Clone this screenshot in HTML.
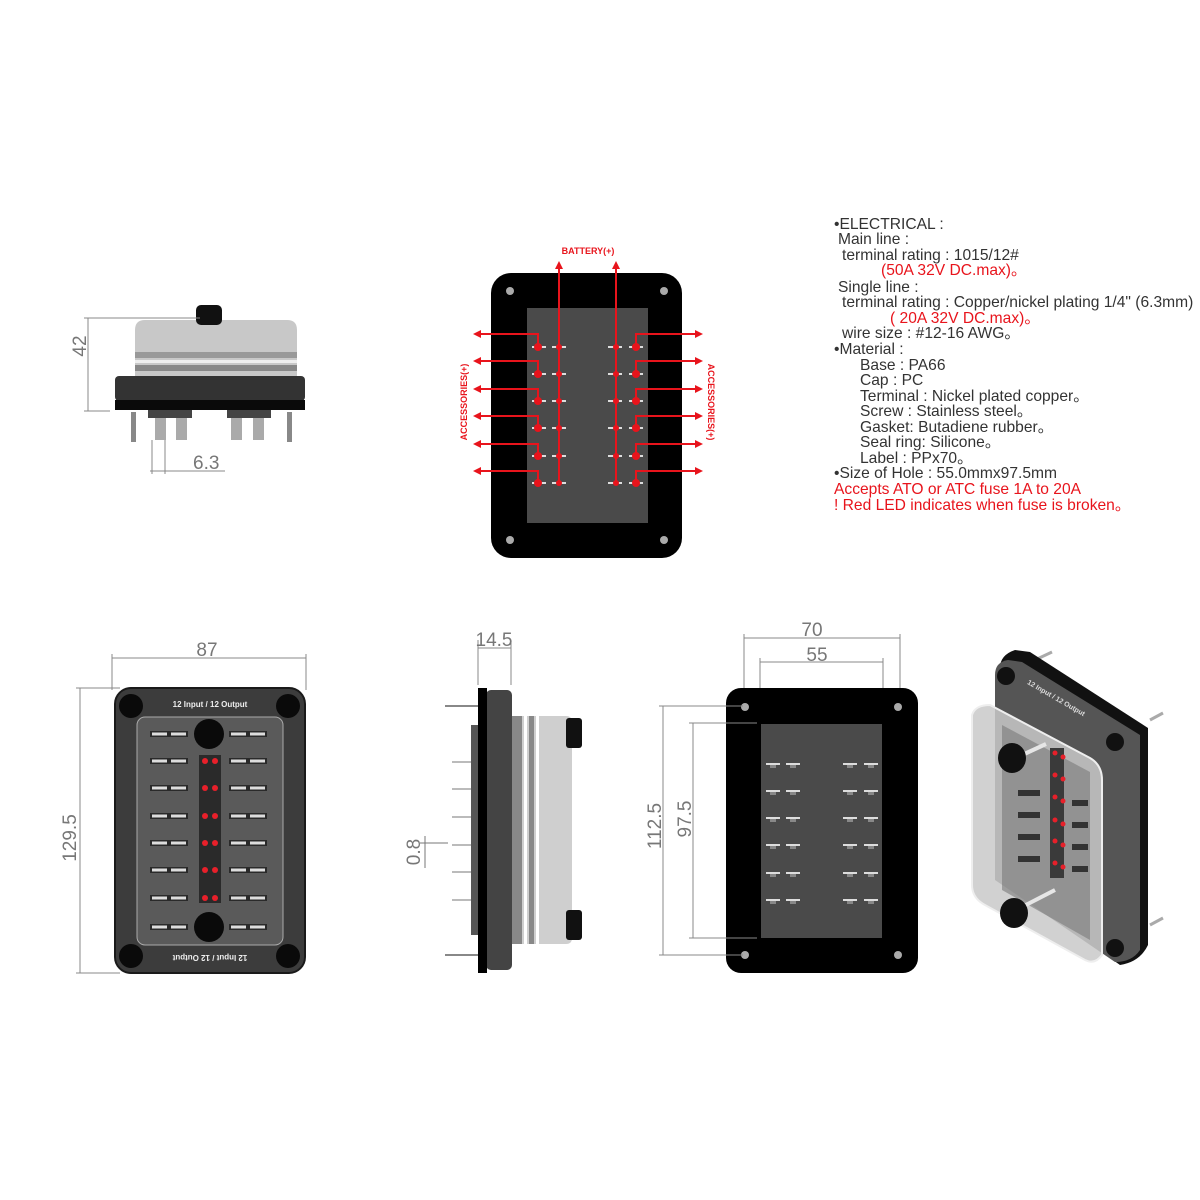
<!DOCTYPE html>
<html><head><meta charset="utf-8"><style>
html,body{margin:0;padding:0;background:#fff;}
svg{display:block;}
.t{font-family:"Liberation Sans",sans-serif;font-size:15.6px;fill:#333;}
.r{fill:#e8141c;}
.dim{font-family:"Liberation Sans",sans-serif;font-size:19px;fill:#777;}
.dl{stroke:#888;stroke-width:1;fill:none;}
</style></head><body>
<svg width="1200" height="1200" viewBox="0 0 1200 1200" xmlns="http://www.w3.org/2000/svg">
<defs>
<marker id="ar" markerWidth="8" markerHeight="8" refX="6" refY="4" orient="auto" markerUnits="userSpaceOnUse"><path d="M0,0 L8,4 L0,8 z" fill="#e8141c"/></marker>
<g id="fz"><rect x="0" y="-3" width="38" height="6" fill="#2a2a2a"/><rect x="2" y="-1.5" width="15" height="3" fill="#ddd"/><rect x="21" y="-1.5" width="15" height="3" fill="#ddd"/></g>
<g id="td"><rect x="0" y="-1" width="14" height="2" fill="#ddd"/><rect x="4" y="1" width="6" height="3" fill="#888"/></g>
</defs>

<!-- Top-left side view -->
<path d="M135,378 L135,330 Q135,320 145,320 L287,320 Q297,320 297,330 L297,378 Z" fill="#c8c8c8"/>
<rect x="135" y="352" width="162" height="6" fill="#999"/>
<rect x="135" y="360" width="162" height="3" fill="#eee"/>
<rect x="135" y="365" width="162" height="6" fill="#888"/>
<rect x="196" y="305" width="26" height="20" rx="5" fill="#111"/>
<rect x="115" y="376" width="190" height="25" rx="4" fill="#333"/>
<rect x="115" y="400" width="190" height="10" fill="#0a0a0a"/>
<rect x="148" y="410" width="44" height="8" fill="#444"/>
<rect x="227" y="410" width="44" height="8" fill="#444"/>
<rect x="155" y="418" width="11" height="22" fill="#aaa"/><rect x="176" y="418" width="11" height="22" fill="#aaa"/>
<rect x="231" y="418" width="11" height="22" fill="#aaa"/><rect x="253" y="418" width="11" height="22" fill="#aaa"/>
<rect x="131" y="412" width="5" height="30" fill="#888"/><rect x="287" y="412" width="5" height="30" fill="#888"/>
<line class="dl" x1="84" y1="318" x2="200" y2="318"/><line class="dl" x1="84" y1="411" x2="110" y2="411"/>
<line class="dl" x1="88" y1="318" x2="88" y2="411"/>
<text class="dim" transform="translate(86,346) rotate(-90)" text-anchor="middle">42</text>
<line class="dl" x1="152" y1="440" x2="152" y2="474"/><line class="dl" x1="165" y1="440" x2="165" y2="474"/>
<line class="dl" x1="150" y1="471" x2="225" y2="471"/>
<text class="dim" x="193" y="469">6.3</text>

<!-- Top middle wiring diagram -->
<rect x="491" y="273" width="191" height="285" rx="20" fill="#000"/>
<rect x="527" y="308" width="121" height="215" fill="#4a4a4a"/>
<g fill="#aaa"><circle cx="510" cy="291" r="4"/><circle cx="664" cy="291" r="4"/><circle cx="510" cy="540" r="4"/><circle cx="664" cy="540" r="4"/></g>
<g fill="#ddd">
<rect x="532" y="346" width="14" height="2"/><rect x="552" y="346" width="14" height="2"/><rect x="608" y="346" width="14" height="2"/><rect x="629" y="346" width="14" height="2"/>
<rect x="532" y="373" width="14" height="2"/><rect x="552" y="373" width="14" height="2"/><rect x="608" y="373" width="14" height="2"/><rect x="629" y="373" width="14" height="2"/>
<rect x="532" y="400" width="14" height="2"/><rect x="552" y="400" width="14" height="2"/><rect x="608" y="400" width="14" height="2"/><rect x="629" y="400" width="14" height="2"/>
<rect x="532" y="427" width="14" height="2"/><rect x="552" y="427" width="14" height="2"/><rect x="608" y="427" width="14" height="2"/><rect x="629" y="427" width="14" height="2"/>
<rect x="532" y="455" width="14" height="2"/><rect x="552" y="455" width="14" height="2"/><rect x="608" y="455" width="14" height="2"/><rect x="629" y="455" width="14" height="2"/>
<rect x="532" y="482" width="14" height="2"/><rect x="552" y="482" width="14" height="2"/><rect x="608" y="482" width="14" height="2"/><rect x="629" y="482" width="14" height="2"/>
</g>
<g stroke="#e8141c" stroke-width="2" fill="none">
<line x1="559" y1="485" x2="559" y2="263" marker-end="url(#ar)"/>
<line x1="616" y1="485" x2="616" y2="263" marker-end="url(#ar)"/>
<path d="M538,347 V334 H475" marker-end="url(#ar)"/>
<path d="M538,374 V361 H475" marker-end="url(#ar)"/>
<path d="M538,401 V389 H475" marker-end="url(#ar)"/>
<path d="M538,428 V416 H475" marker-end="url(#ar)"/>
<path d="M538,456 V444 H475" marker-end="url(#ar)"/>
<path d="M538,483 V471 H475" marker-end="url(#ar)"/>
<path d="M636,347 V334 H701" marker-end="url(#ar)"/>
<path d="M636,374 V361 H701" marker-end="url(#ar)"/>
<path d="M636,401 V389 H701" marker-end="url(#ar)"/>
<path d="M636,428 V416 H701" marker-end="url(#ar)"/>
<path d="M636,456 V444 H701" marker-end="url(#ar)"/>
<path d="M636,483 V471 H701" marker-end="url(#ar)"/>
</g>
<g fill="#e8141c">
<circle cx="538" cy="347" r="4"/><circle cx="559" cy="347" r="3"/><circle cx="616" cy="347" r="3"/><circle cx="636" cy="347" r="4"/>
<circle cx="538" cy="374" r="4"/><circle cx="559" cy="374" r="3"/><circle cx="616" cy="374" r="3"/><circle cx="636" cy="374" r="4"/>
<circle cx="538" cy="401" r="4"/><circle cx="559" cy="401" r="3"/><circle cx="616" cy="401" r="3"/><circle cx="636" cy="401" r="4"/>
<circle cx="538" cy="428" r="4"/><circle cx="559" cy="428" r="3"/><circle cx="616" cy="428" r="3"/><circle cx="636" cy="428" r="4"/>
<circle cx="538" cy="456" r="4"/><circle cx="559" cy="456" r="3"/><circle cx="616" cy="456" r="3"/><circle cx="636" cy="456" r="4"/>
<circle cx="538" cy="483" r="4"/><circle cx="559" cy="483" r="3"/><circle cx="616" cy="483" r="3"/><circle cx="636" cy="483" r="4"/>
</g>
<text x="588" y="254" text-anchor="middle" font-family="Liberation Sans,sans-serif" font-size="9" font-weight="bold" fill="#e8141c">BATTERY(+)</text>
<text transform="translate(467,402) rotate(-90)" text-anchor="middle" font-family="Liberation Sans,sans-serif" font-size="9" font-weight="bold" fill="#e8141c">ACCESSORIES(+)</text>
<text transform="translate(708,402) rotate(90)" text-anchor="middle" font-family="Liberation Sans,sans-serif" font-size="9" font-weight="bold" fill="#e8141c">ACCESSORIES(+)</text>

<!-- Spec text -->
<g class="t">
<text x="834" y="229">•ELECTRICAL :</text>
<text x="838" y="244">Main line :</text>
<text x="842" y="260">terminal rating : 1015/12#</text>
<text x="881" y="275" class="r">(50A 32V DC.max)。</text>
<text x="838" y="292">Single line :</text>
<text x="842" y="307">terminal rating : Copper/nickel plating 1/4" (6.3mm)</text>
<text x="890" y="323" class="r">( 20A 32V DC.max)。</text>
<text x="842" y="338">wire size : #12-16 AWG。</text>
<text x="834" y="354">•Material :</text>
<text x="860" y="370">Base : PA66</text>
<text x="860" y="385">Cap : PC</text>
<text x="860" y="401">Terminal : Nickel plated copper。</text>
<text x="860" y="416">Screw : Stainless steel。</text>
<text x="860" y="432">Gasket: Butadiene rubber。</text>
<text x="860" y="447">Seal ring: Silicone。</text>
<text x="860" y="463">Label : PPx70。</text>
<text x="834" y="478">•Size of Hole :  55.0mmx97.5mm</text>
<text x="834" y="494" class="r">Accepts ATO or ATC fuse  1A to 20A</text>
<text x="834" y="510" class="r">! Red LED indicates when fuse is broken。</text>
</g>

<!-- Bottom-left front view -->
<line class="dl" x1="112" y1="658" x2="306" y2="658"/>
<line class="dl" x1="112" y1="654" x2="112" y2="690"/><line class="dl" x1="306" y1="654" x2="306" y2="690"/>
<text class="dim" x="207" y="656" text-anchor="middle">87</text>
<line class="dl" x1="76" y1="688" x2="120" y2="688"/><line class="dl" x1="76" y1="973" x2="120" y2="973"/>
<line class="dl" x1="80" y1="688" x2="80" y2="973"/>
<text class="dim" transform="translate(76,838) rotate(-90)" text-anchor="middle">129.5</text>
<rect x="115" y="688" width="190" height="285" rx="16" fill="#3c3c3c" stroke="#1a1a1a" stroke-width="2"/>
<rect x="137" y="717" width="146" height="228" rx="8" fill="#5a5a5a" stroke="#aaa" stroke-width="1"/>
<g fill="#0a0a0a"><circle cx="131" cy="706" r="12"/><circle cx="288" cy="706" r="12"/><circle cx="131" cy="956" r="12"/><circle cx="288" cy="956" r="12"/></g>
<text x="210" y="707" text-anchor="middle" font-family="Liberation Sans,sans-serif" font-size="8" font-weight="bold" fill="#eee">12 Input / 12 Output</text>
<text transform="translate(210,955) rotate(180)" text-anchor="middle" font-family="Liberation Sans,sans-serif" font-size="8" font-weight="bold" fill="#eee">12 Input / 12 Output</text>
<rect x="199" y="755" width="22" height="148" fill="#2a2a2a"/>
<use href="#fz" x="150" y="734"/><use href="#fz" x="229" y="734"/>
<use href="#fz" x="150" y="761"/><use href="#fz" x="229" y="761"/>
<use href="#fz" x="150" y="788"/><use href="#fz" x="229" y="788"/>
<use href="#fz" x="150" y="816"/><use href="#fz" x="229" y="816"/>
<use href="#fz" x="150" y="843"/><use href="#fz" x="229" y="843"/>
<use href="#fz" x="150" y="870"/><use href="#fz" x="229" y="870"/>
<use href="#fz" x="150" y="898"/><use href="#fz" x="229" y="898"/>
<use href="#fz" x="150" y="927"/><use href="#fz" x="229" y="927"/>
<g fill="#e8202a">
<circle cx="205" cy="761" r="3"/><circle cx="215" cy="761" r="3"/>
<circle cx="205" cy="788" r="3"/><circle cx="215" cy="788" r="3"/>
<circle cx="205" cy="816" r="3"/><circle cx="215" cy="816" r="3"/>
<circle cx="205" cy="843" r="3"/><circle cx="215" cy="843" r="3"/>
<circle cx="205" cy="870" r="3"/><circle cx="215" cy="870" r="3"/>
<circle cx="205" cy="898" r="3"/><circle cx="215" cy="898" r="3"/>
</g>
<circle cx="209" cy="734" r="15" fill="#0a0a0a"/><circle cx="209" cy="927" r="15" fill="#0a0a0a"/>

<!-- Bottom-middle side view -->
<line class="dl" x1="478" y1="640" x2="478" y2="685"/><line class="dl" x1="511" y1="640" x2="511" y2="685"/>
<line class="dl" x1="478" y1="648" x2="511" y2="648"/>
<text class="dim" x="494" y="646" text-anchor="middle">14.5</text>
<path d="M512,716 L566,716 Q572,716 572,722 L572,938 Q572,944 566,944 L512,944 Z" fill="#cfcfcf"/>
<rect x="512" y="716" width="10" height="228" fill="#888"/>
<rect x="524" y="716" width="3" height="228" fill="#fff"/>
<rect x="529" y="716" width="5" height="228" fill="#888"/>
<rect x="536" y="716" width="3" height="228" fill="#fff"/>
<rect x="566" y="718" width="16" height="30" rx="3" fill="#111"/>
<rect x="566" y="910" width="16" height="30" rx="3" fill="#111"/>
<rect x="486" y="690" width="26" height="280" rx="5" fill="#444"/>
<rect x="471" y="725" width="8" height="210" fill="#555"/>
<rect x="478" y="688" width="9" height="285" fill="#000"/>
<g stroke="#888" stroke-width="2"><line x1="445" y1="706" x2="478" y2="706"/><line x1="445" y1="955" x2="478" y2="955"/></g>
<g stroke="#777" stroke-width="1">
<line x1="452" y1="762" x2="471" y2="762"/><line x1="452" y1="789" x2="471" y2="789"/><line x1="452" y1="817" x2="471" y2="817"/>
<line x1="452" y1="845" x2="471" y2="845"/><line x1="452" y1="872" x2="471" y2="872"/><line x1="452" y1="900" x2="471" y2="900"/>
<line x1="420" y1="843" x2="448" y2="843"/><line x1="425" y1="836" x2="425" y2="868"/>
</g>
<text class="dim" transform="translate(420,852) rotate(-90)" text-anchor="middle">0.8</text>

<!-- Bottom panel cutout view -->
<line class="dl" x1="744" y1="638" x2="900" y2="638"/>
<line class="dl" x1="744" y1="634" x2="744" y2="705"/><line class="dl" x1="900" y1="634" x2="900" y2="705"/>
<text class="dim" x="812" y="636" text-anchor="middle">70</text>
<line class="dl" x1="760" y1="662" x2="883" y2="662"/>
<line class="dl" x1="760" y1="658" x2="760" y2="722"/><line class="dl" x1="883" y1="658" x2="883" y2="722"/>
<text class="dim" x="817" y="661" text-anchor="middle">55</text>
<rect x="726" y="688" width="192" height="285" rx="15" fill="#000"/>
<rect x="761" y="724" width="121" height="214" fill="#4a4a4a"/>
<g fill="#aaa"><circle cx="745" cy="707" r="4"/><circle cx="898" cy="707" r="4"/><circle cx="745" cy="955" r="4"/><circle cx="898" cy="955" r="4"/></g>
<use href="#td" x="766" y="764"/><use href="#td" x="786" y="764"/><use href="#td" x="843" y="764"/><use href="#td" x="864" y="764"/>
<use href="#td" x="766" y="791"/><use href="#td" x="786" y="791"/><use href="#td" x="843" y="791"/><use href="#td" x="864" y="791"/>
<use href="#td" x="766" y="818"/><use href="#td" x="786" y="818"/><use href="#td" x="843" y="818"/><use href="#td" x="864" y="818"/>
<use href="#td" x="766" y="845"/><use href="#td" x="786" y="845"/><use href="#td" x="843" y="845"/><use href="#td" x="864" y="845"/>
<use href="#td" x="766" y="873"/><use href="#td" x="786" y="873"/><use href="#td" x="843" y="873"/><use href="#td" x="864" y="873"/>
<use href="#td" x="766" y="900"/><use href="#td" x="786" y="900"/><use href="#td" x="843" y="900"/><use href="#td" x="864" y="900"/>
<line class="dl" x1="659" y1="706" x2="743" y2="706"/><line class="dl" x1="659" y1="955" x2="743" y2="955"/>
<line class="dl" x1="663" y1="706" x2="663" y2="955"/>
<text class="dim" transform="translate(661,826) rotate(-90)" text-anchor="middle">112.5</text>
<line class="dl" x1="689" y1="723" x2="757" y2="723"/><line class="dl" x1="689" y1="938" x2="757" y2="938"/>
<line class="dl" x1="693" y1="723" x2="693" y2="938"/>
<text class="dim" transform="translate(691,819) rotate(-90)" text-anchor="middle">97.5</text>

<!-- 3D view -->
<g stroke="#aaa" stroke-width="3"><line x1="1035" y1="660" x2="1052" y2="652"/><line x1="1150" y1="720" x2="1163" y2="713"/><line x1="1150" y1="925" x2="1163" y2="918"/></g>
<path d="M1000,668 Q1000,655 1015,650 L1030,652 L1148,728 L1148,945 Q1140,962 1120,965 L1000,880 Z" fill="#111"/>
<path d="M995,675 Q995,662 1008,660 L1022,662 L1140,735 L1140,950 Q1132,962 1115,962 L995,880 Z" fill="#555"/>
<g fill="#111"><circle cx="1006" cy="676" r="9"/><circle cx="1115" cy="742" r="9"/><circle cx="1115" cy="948" r="9"/></g>
<text transform="translate(1055,700) rotate(30)" text-anchor="middle" font-family="Liberation Sans,sans-serif" font-size="7" font-weight="bold" fill="#ddd">12 Input / 12 Output</text>
<path d="M972,715 Q975,705 990,705 L1090,758 Q1102,765 1102,780 L1102,955 Q1095,965 1085,960 L985,905 Q972,898 972,885 Z" fill="#c9c9c9" fill-opacity="0.85" stroke="#eee" stroke-width="2"/>
<path d="M1002,725 L1090,772 L1090,940 L1002,890 Z" fill="#7a7a7a" fill-opacity="0.6"/>
<rect x="1050" y="748" width="14" height="130" fill="#3a3a3a"/>
<g fill="#e8202a">
<circle cx="1055" cy="753" r="2.5"/><circle cx="1063" cy="757" r="2.5"/>
<circle cx="1055" cy="775" r="2.5"/><circle cx="1063" cy="779" r="2.5"/>
<circle cx="1055" cy="797" r="2.5"/><circle cx="1063" cy="801" r="2.5"/>
<circle cx="1055" cy="820" r="2.5"/><circle cx="1063" cy="824" r="2.5"/>
<circle cx="1055" cy="841" r="2.5"/><circle cx="1063" cy="845" r="2.5"/>
<circle cx="1055" cy="863" r="2.5"/><circle cx="1063" cy="867" r="2.5"/>
</g>
<g fill="#333"><rect x="1018" y="790" width="22" height="6"/><rect x="1018" y="812" width="22" height="6"/><rect x="1018" y="834" width="22" height="6"/><rect x="1018" y="856" width="22" height="6"/><rect x="1072" y="800" width="16" height="6"/><rect x="1072" y="822" width="16" height="6"/><rect x="1072" y="844" width="16" height="6"/><rect x="1072" y="866" width="16" height="6"/></g>
<g stroke="#e6e6e6" stroke-width="4"><line x1="1020" y1="756" x2="1046" y2="744"/><line x1="1020" y1="908" x2="1055" y2="890"/></g>
<ellipse cx="1012" cy="758" rx="14" ry="15" fill="#111"/>
<ellipse cx="1014" cy="913" rx="14" ry="15" fill="#111"/>
</svg>
</body></html>
